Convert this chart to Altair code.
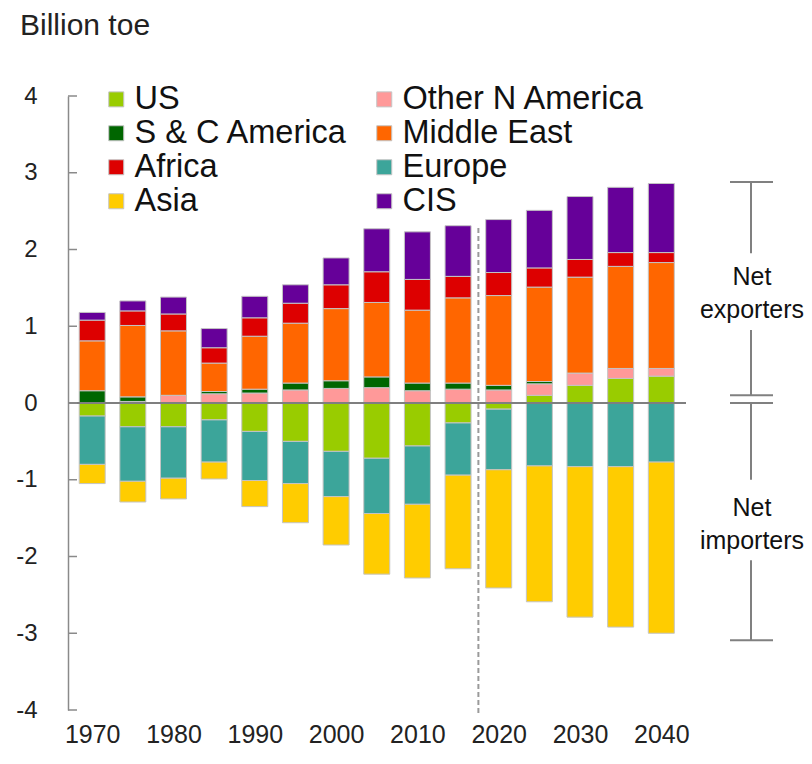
import altair as alt
import pandas as pd

# ---------------- data (billion toe) ----------------
years = [1970, 1975, 1980, 1985, 1990, 1995, 2000, 2005, 2010, 2015, 2020, 2025, 2030, 2035, 2040]

us          = [-0.17, -0.31, -0.31, -0.22, -0.37, -0.50, -0.63, -0.72, -0.56, -0.26, -0.08, 0.10, 0.23, 0.32, 0.35]
other_na    = [0.00, 0.02, 0.10, 0.12, 0.13, 0.17, 0.19, 0.20, 0.16, 0.18, 0.17, 0.15, 0.16, 0.13, 0.10]
sc_america  = [0.16, 0.06, 0.00, 0.03, 0.05, 0.09, 0.10, 0.14, 0.10, 0.08, 0.06, 0.03, 0.00, 0.00, 0.00]
middle_east = [0.65, 0.93, 0.84, 0.37, 0.69, 0.78, 0.94, 0.97, 0.95, 1.11, 1.17, 1.23, 1.25, 1.33, 1.38]
africa      = [0.27, 0.19, 0.22, 0.20, 0.24, 0.26, 0.31, 0.40, 0.40, 0.28, 0.30, 0.25, 0.23, 0.18, 0.13]
cis         = [0.10, 0.13, 0.22, 0.25, 0.28, 0.24, 0.35, 0.56, 0.62, 0.66, 0.69, 0.75, 0.82, 0.85, 0.90]
europe      = [-0.63, -0.71, -0.67, -0.55, -0.64, -0.55, -0.59, -0.72, -0.76, -0.68, -0.79, -0.82, -0.83, -0.83, -0.77]
asia        = [-0.25, -0.27, -0.27, -0.22, -0.34, -0.51, -0.63, -0.79, -0.96, -1.22, -1.54, -1.77, -1.96, -2.09, -2.23]

# stacking order, from zero outwards
stack_order = ["US", "Other N America", "S & C America", "Middle East", "Africa", "CIS", "Europe", "Asia"]
series = {
    "US": us, "Other N America": other_na, "S & C America": sc_america,
    "Middle East": middle_east, "Africa": africa, "CIS": cis,
    "Europe": europe, "Asia": asia,
}
# legend order (column by column, two columns)
legend_order = ["US", "S & C America", "Africa", "Asia",
                "Other N America", "Middle East", "Europe", "CIS"]
legend_colors = ["#99cc00", "#006600", "#dd0000", "#ffcc00",
                 "#ff9999", "#ff6600", "#3ca59a", "#660099"]

y_ticks = [-4, -3, -2, -1, 0, 1, 2, 3, 4]
x_labels = [1970, 1980, 1990, 2000, 2010, 2020, 2030, 2040]
divider_year = [2017.5]

# bracket annotations (values on the y scale)
bracket_segments_y = [2.88, 0.95, 0.0, -2.05]
bracket_segments_y2 = [1.95, 0.10, -1.00, -3.09]
bracket_caps = [2.88, 0.10, 0.00, -3.09]

rows = []
for k, name in enumerate(stack_order):
    for yr, v in zip(years, series[name]):
        if v != 0:
            rows.append({"year": yr, "region": name, "value": v, "ord": k})
df = pd.DataFrame(rows)

FONT = "Liberation Sans"
W, H = 618, 614

x_scale = alt.Scale(domain=[1967.64, 2042.42], nice=False, zero=False)
y_scale = alt.Scale(domain=[-4, 4], nice=False, zero=False)

bars = alt.Chart(df).mark_bar(size=26, stroke="#c4c4c4", strokeWidth=1).encode(
    x=alt.X("year:Q", scale=x_scale,
            axis=alt.Axis(values=x_labels, labelExpr="datum.value", domain=False,
                          ticks=False, grid=False, labelPadding=12, labelFontSize=25,
                          labelColor="#222222", labelFont=FONT, title=None)),
    y=alt.Y("value:Q", scale=y_scale, stack="zero",
            axis=alt.Axis(values=y_ticks, labelExpr="datum.value", domainColor="#8a8a8a",
                          domainWidth=1.5, ticks=False, grid=False, labelPadding=31,
                          labelFontSize=24, labelColor="#222222", labelFont=FONT, title=None)),
    color=alt.Color("region:N",
                    scale=alt.Scale(domain=legend_order, range=legend_colors),
                    legend=alt.Legend(orient="none", legendX=32, legendY=-13, columns=2,
                                      direction="vertical",
                                      title=None, symbolType="square", symbolSize=225,
                                      labelFontSize=32.5, labelFont=FONT, labelColor="#111111",
                                      labelOffset=2, labelLimit=400, rowPadding=1,
                                      columnPadding=20, padding=0,
                                      symbolStrokeColor="#c4c4c4", symbolStrokeWidth=1)),
    order=alt.Order("ord:Q", sort="ascending"),
)

tick_df = pd.DataFrame({"value": y_ticks})
yticks = alt.Chart(tick_df).mark_rule(color="#8a8a8a", strokeWidth=1.5).encode(
    y=alt.Y("value:Q", scale=y_scale),
    x=alt.value(0), x2=alt.value(9),
)

zero_df = pd.DataFrame({"value": [0]})
zero_line = alt.Chart(zero_df).mark_rule(color="#7f7f7f", strokeWidth=2).encode(
    y=alt.Y("value:Q", scale=y_scale),
    x=alt.value(0), x2=alt.value(W),
)

div_df = pd.DataFrame({"year": divider_year, "value": [2.28], "value2": [-4.05]})
divider = alt.Chart(div_df).mark_rule(color="#9a9a9a", strokeWidth=2, strokeDash=[5, 3]).encode(
    x=alt.X("year:Q", scale=x_scale),
    y=alt.Y("value:Q", scale=y_scale),
    y2="value2:Q",
)

seg_df = pd.DataFrame({"value": bracket_segments_y, "value2": bracket_segments_y2})
segments = alt.Chart(seg_df).mark_rule(color="#808080", strokeWidth=2).encode(
    y=alt.Y("value:Q", scale=y_scale), y2="value2:Q", x=alt.value(683),
)
cap_df = pd.DataFrame({"value": bracket_caps})
caps = alt.Chart(cap_df).mark_rule(color="#808080", strokeWidth=2).encode(
    y=alt.Y("value:Q", scale=y_scale), x=alt.value(662), x2=alt.value(705),
)

one = pd.DataFrame({"k": [0]})
exp_text = alt.Chart(one).mark_text(font=FONT, fontSize=25, color="#111111", align="center",
                                    baseline="middle", lineHeight=33).encode(
    x=alt.value(684), y=alt.value(181), text=alt.value(["Net", "exporters"]))
imp_text = alt.Chart(one).mark_text(font=FONT, fontSize=25, color="#111111", align="center",
                                    baseline="middle", lineHeight=33).encode(
    x=alt.value(684), y=alt.value(412), text=alt.value(["Net", "importers"]))
title_text = alt.Chart(one).mark_text(font=FONT, fontSize=30, color="#222222", align="left",
                                      baseline="alphabetic").encode(
    x=alt.value(-48), y=alt.value(-61), text=alt.value("Billion toe"))

chart = alt.layer(bars, zero_line, yticks, divider, segments, caps,
                  exp_text, imp_text, title_text).properties(
    width=W, height=H,
    autosize=alt.AutoSizeParams(type="none"),
    padding={"left": 60, "top": 88, "right": 118, "bottom": 40},
).configure_view(stroke=None)

chart.save("out.html", embed_options={"renderer": "svg", "actions": False})
